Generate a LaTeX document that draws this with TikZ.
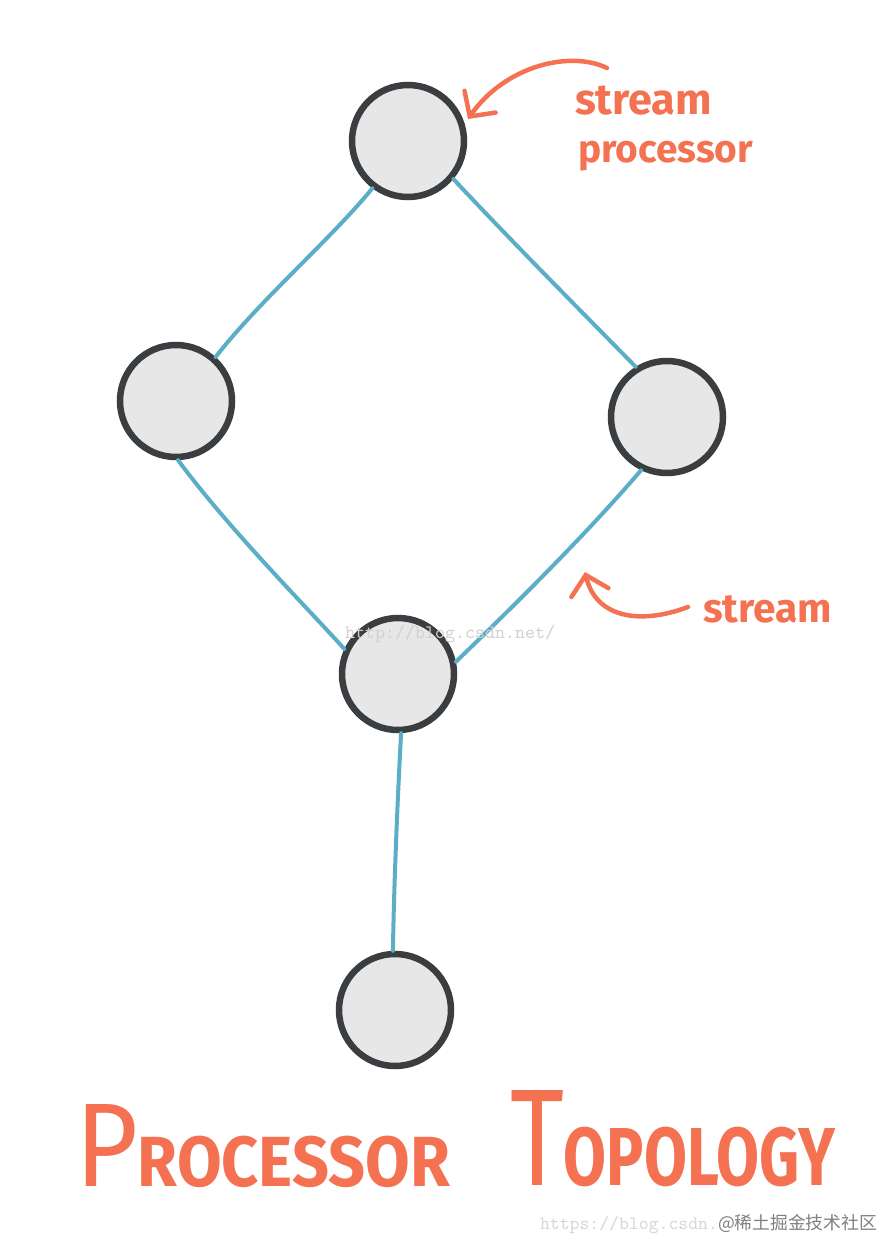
\documentclass[tikz,border=0pt]{standalone}
\usepackage{fontspec}
\setmainfont{Fira Sans}
\newfontfamily\cjk{Noto Sans CJK SC}
\usetikzlibrary{arrows.meta}
\definecolor{hand}{HTML}{F47252}
\definecolor{edgeblue}{HTML}{5AAEC6}
\definecolor{ringgray}{HTML}{3B3E41}
\definecolor{fillgray}{HTML}{E7E7E8}
\newcommand{\ttlword}[4]{\resizebox{#3}{#4}{\fontsize{119}{119}\selectfont\mdseries #1\fontsize{71}{71}\selectfont\bfseries #2}}
\tikzset{
  proc/.style={circle, draw=ringgray, fill=fillgray, line width=6.5pt, minimum size=112pt, inner sep=0pt},
  link/.style={draw=edgeblue, line width=4pt, line cap=round},
  pointer/.style={draw=hand, line width=4.5pt, line cap=round, line join=round, -{Straight Barb[length=18pt,width=38pt,line cap=round]}},
  handtext/.style={text=hand, inner sep=0pt, outer sep=0pt},
  wm/.style={inner sep=0pt, outer sep=0pt}
}
\begin{document}
\begin{tikzpicture}[x=1pt,y=-1pt]
\path[use as bounding box, fill=white] (0,0) rectangle (883,1239);
% processors
\node[proc] (top) at (408,141) {};
\node[proc] (left) at (176,401) {};
\node[proc] (right) at (667,417) {};
\node[proc] (mid) at (398,674) {};
\node[proc] (bot) at (395,1010) {};
% streams
\draw[link] (top.-127) .. controls (330,240) and (260,300) .. (left.48);
\draw[link] (top.-40) .. controls (520,250) and (580,310) .. (right.122);
\draw[link] (left.-88) .. controls (230,530) and (300,600) .. (mid.155);
\draw[link] (right.-116) .. controls (590,530) and (520,600) .. (mid.12);
\draw[link] (mid.-87) .. controls (398,790) and (394,880) .. (bot.92);
% labels
\coordinate (a1s) at (607,68);
\coordinate (a1e) at (468,119);
\draw[pointer] (a1s) .. controls (570,50) and (505,66) .. (a1e);
\node[handtext, anchor=base west] (lsp) at (575,114) {\resizebox{137pt}{!}{\fontsize{46}{46}\selectfont\bfseries stream}};
\node[handtext, anchor=base west] (lpr) at (578,162) {\resizebox{175pt}{!}{\fontsize{46}{46}\selectfont\bfseries processor}};
\coordinate (a2s) at (688,607);
\coordinate (a2e) at (585,572);
\draw[pointer] (a2s) .. controls (640,625) and (596,618) .. (a2e);
\node[handtext, anchor=base west] (lst) at (703,622) {\resizebox{129pt}{!}{\fontsize{46}{46}\selectfont\bfseries stream}};
% title
\node[handtext, anchor=base west] (t1) at (75,1186) {\ttlword{P}{ROCESSOR}{375pt}{82pt}};
\node[handtext, anchor=base west] (t2) at (510,1185) {\ttlword{T}{OPOLOGY}{325pt}{95pt}};
% watermarks
\node[wm, anchor=base west, text=black!18] (w1) at (345,638) {\resizebox{210pt}{!}{\ttfamily http://blog.csdn.net/}};
\node[wm, anchor=base west, text=black!16] (w2) at (540,1229) {\resizebox{178pt}{!}{\ttfamily https://blog.csdn.}};
\node[wm, anchor=base west, text=black!50] (w3) at (718,1229) {\resizebox{159pt}{!}{\cjk @稀土掘金技术社区}};
\end{tikzpicture}
\end{document}
